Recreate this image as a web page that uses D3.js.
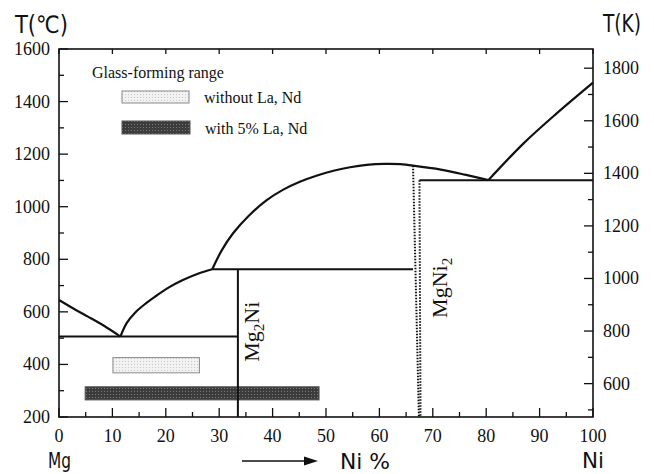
<!DOCTYPE html>
<html>
<head>
<meta charset="utf-8">
<script src="https://cdn.jsdelivr.net/npm/d3@7"></script>
<style>
  body { margin: 0; background: #fff; }
  svg { display: block; }
</style>
</head>
<body>
<div id="chart"></div>
<script>
// Mg-Ni phase diagram, x = at% Ni, y = temperature in degrees C
const liquidusMg = [[0, 645], [3, 609], [5.5, 581], [8.5, 546], [11.5, 506]];
const liquidusMg2Ni = [[11.5, 506], [12.7, 558], [14.2, 596], [16, 628], [18, 658],
  [20.5, 692], [23, 719], [26, 745], [28.7, 762]];
const liquidusMgNi2 = [[28.7, 762], [30.5, 835], [32.6, 899], [35.5, 965], [38.9, 1025],
  [42, 1065], [45.1, 1095], [48.2, 1118], [51.4, 1137], [54.5, 1150], [57.6, 1159],
  [61, 1163], [63.9, 1162], [66.3, 1156]];
const liquidusMid = [[66.3, 1156], [71.5, 1141], [76, 1122], [80.4, 1101]];
const liquidusNi = [[80.4, 1101], [87, 1241], [93.2, 1355], [100, 1472]];

// horizontal invariant lines: [xStart, xEnd, T]
const isotherms = [[0, 33.5, 506], [28.7, 66.3, 762], [67.5, 100, 1101]];
// Mg2Ni compound line
const mg2niLine = [[33.5, 200], [33.5, 762]];
// MgNi2 homogeneity range (dotted)
const mgni2Left = [[66.3, 1156], [67.4, 200]];
const mgni2Right = [[67.5, 1101], [67.7, 200]];

// glass-forming ranges: [xStart, xEnd, Tlow, Thigh]
const glassWithout = [10.1, 26.3, 368, 426];
const glassWith = [4.9, 48.7, 265, 315];

const xTicks = d3.range(0, 101, 5);
const xLabels = d3.range(0, 101, 10);
const cTicks = d3.range(200, 1601, 100);
const cLabels = d3.range(200, 1601, 200);
const kTicks = d3.range(500, 1801, 100);
const kLabels = d3.range(600, 1801, 200);

const serif = '"Liberation Serif", "Times New Roman", Times, serif';
const gothic = '"Liberation Sans Narrow", "DejaVu Sans Condensed", "Noto Sans", sans-serif';

const W = 654, H = 474;
const margin = { top: 49, right: 61, bottom: 57, left: 59 };
const width = W - margin.left - margin.right;
const height = H - margin.top - margin.bottom;

const svg = d3.select("#chart").append("svg")
  .attr("width", W)
  .attr("height", H);

const defs = svg.append("defs");
const lightPat = defs.append("pattern")
  .attr("id", "lightTex").attr("width", 3).attr("height", 3)
  .attr("patternUnits", "userSpaceOnUse");
lightPat.append("rect").attr("width", 3).attr("height", 3).attr("fill", "#f2f2f2");
lightPat.append("rect").attr("width", 1).attr("height", 1).attr("fill", "#c8c8c8");
const darkPat = defs.append("pattern")
  .attr("id", "darkTex").attr("width", 3).attr("height", 3)
  .attr("patternUnits", "userSpaceOnUse");
darkPat.append("rect").attr("width", 3).attr("height", 3).attr("fill", "#3c3c3c");
darkPat.append("rect").attr("width", 1).attr("height", 1).attr("fill", "#7a7a7a");

const chart = svg.append("g")
  .attr("transform", `translate(${margin.left},${margin.top})`);

const x = d3.scaleLinear().domain([0, 100]).range([0, width]);
const y = d3.scaleLinear().domain([200, 1600]).range([height, 0]);
const yK = d3.scaleLinear().domain([473, 1873]).range([height, 0]);

// frame
chart.append("rect")
  .attr("width", width).attr("height", height)
  .attr("fill", "none").attr("stroke", "#111").attr("stroke-width", 1.6);

// bottom ticks (inward)
chart.selectAll(".xtick").data(xTicks).enter().append("line")
  .attr("x1", d => x(d)).attr("x2", d => x(d))
  .attr("y1", height).attr("y2", d => height - (d % 10 === 0 ? 9 : 5))
  .attr("stroke", "#111").attr("stroke-width", 1.3);
// top ticks
chart.selectAll(".ttick").data(xLabels).enter().append("line")
  .attr("x1", d => x(d)).attr("x2", d => x(d))
  .attr("y1", 0).attr("y2", 5)
  .attr("stroke", "#111").attr("stroke-width", 1.3);
chart.selectAll(".xlab").data(xLabels).enter().append("text")
  .attr("x", d => x(d)).attr("y", height + 25)
  .attr("text-anchor", "middle")
  .style("font-family", serif).style("font-size", "18px").style("fill", "#111")
  .text(d => d);

// left axis (deg C)
chart.selectAll(".ctick").data(cTicks).enter().append("line")
  .attr("x1", 0).attr("x2", d => (d % 200 === 0 ? 9 : 5))
  .attr("y1", d => y(d)).attr("y2", d => y(d))
  .attr("stroke", "#111").attr("stroke-width", 1.3);
chart.selectAll(".clab").data(cLabels).enter().append("text")
  .attr("x", -9).attr("y", d => y(d) + 6)
  .attr("text-anchor", "end")
  .style("font-family", serif).style("font-size", "18px").style("fill", "#111")
  .text(d => d);

// right axis (K)
chart.selectAll(".ktick").data(kTicks).enter().append("line")
  .attr("x1", width).attr("x2", d => width - (d % 200 === 0 ? 9 : 5))
  .attr("y1", d => yK(d)).attr("y2", d => yK(d))
  .attr("stroke", "#111").attr("stroke-width", 1.3);
chart.selectAll(".klab").data(kLabels).enter().append("text")
  .attr("x", width + 10).attr("y", d => yK(d) + 6)
  .style("font-family", serif).style("font-size", "18px").style("fill", "#111")
  .text(d => d);

// glass-forming bars
chart.append("rect")
  .attr("x", x(glassWithout[0])).attr("width", x(glassWithout[1]) - x(glassWithout[0]))
  .attr("y", y(glassWithout[3])).attr("height", y(glassWithout[2]) - y(glassWithout[3]))
  .attr("fill", "url(#lightTex)").attr("stroke", "#8a8a8a").attr("stroke-width", 1);
chart.append("rect")
  .attr("x", x(glassWith[0])).attr("width", x(glassWith[1]) - x(glassWith[0]))
  .attr("y", y(glassWith[3])).attr("height", y(glassWith[2]) - y(glassWith[3]))
  .attr("fill", "url(#darkTex)").attr("stroke", "#555").attr("stroke-width", 1);

// phase boundaries
const curve = d3.line().x(d => x(d[0])).y(d => y(d[1])).curve(d3.curveCatmullRom.alpha(0.5));
const straight = d3.line().x(d => x(d[0])).y(d => y(d[1]));

[liquidusMg, liquidusMg2Ni, liquidusMgNi2, liquidusMid, liquidusNi].forEach(seg => {
  chart.append("path").datum(seg)
    .attr("fill", "none").attr("stroke", "#111").attr("stroke-width", 2.2)
    .attr("stroke-linejoin", "round")
    .attr("d", curve);
});

chart.selectAll(".iso").data(isotherms).enter().append("line")
  .attr("x1", d => x(d[0])).attr("x2", d => x(d[1]))
  .attr("y1", d => y(d[2])).attr("y2", d => y(d[2]))
  .attr("stroke", "#111").attr("stroke-width", 2);

chart.append("path").datum(mg2niLine)
  .attr("fill", "none").attr("stroke", "#111").attr("stroke-width", 2)
  .attr("d", straight);

[mgni2Left, mgni2Right].forEach(seg => {
  chart.append("path").datum(seg)
    .attr("fill", "none").attr("stroke", "#111").attr("stroke-width", 2)
    .attr("stroke-dasharray", "1.6,1.4")
    .attr("d", straight);
});

// compound labels (rotated)
const mg2niLabel = chart.append("text")
  .attr("transform", `translate(${x(33.5) + 21},${y(410)}) rotate(-90)`)
  .style("font-family", serif).style("font-size", "22px").style("fill", "#111");
mg2niLabel.append("tspan").text("Mg");
mg2niLabel.append("tspan").attr("dy", 5).style("font-size", "15px").text("2");
mg2niLabel.append("tspan").attr("dy", -5).text("Ni");

const mgni2Label = chart.append("text")
  .attr("transform", `translate(${x(67.5) + 28},${y(577)}) rotate(-90)`)
  .style("font-family", serif).style("font-size", "22px").style("fill", "#111");
mgni2Label.append("tspan").text("MgNi");
mgni2Label.append("tspan").attr("dy", 5).style("font-size", "15px").text("2");

// legend
const legendText = (tx, ty, label) => chart.append("text")
  .attr("x", tx).attr("y", ty)
  .style("font-family", serif).style("font-size", "16px").style("fill", "#111")
  .text(label);
legendText(33, 29, "Glass-forming range");
chart.append("rect")
  .attr("x", 63).attr("y", 42).attr("width", 67).attr("height", 12)
  .attr("fill", "url(#lightTex)").attr("stroke", "#8a8a8a");
legendText(145, 54, "without La, Nd");
chart.append("rect")
  .attr("x", 63).attr("y", 72).attr("width", 68).attr("height", 13)
  .attr("fill", "url(#darkTex)").attr("stroke", "#555");
legendText(146, 85, "with 5% La, Nd");

// axis titles
const title = (tx, ty, len, size, label) => svg.append("text")
  .attr("x", tx).attr("y", ty)
  .attr("textLength", len).attr("lengthAdjust", "spacingAndGlyphs")
  .style("font-family", gothic).style("font-size", size + "px").style("fill", "#111")
  .text(label);
title(15, 33, 53, 24, "T(℃)");
title(603, 32, 38, 24, "T(K)");
title(48, 468, 23, 22, "Mg");
title(582, 468, 22, 22, "Ni");
title(340, 469, 50, 22, "Ni   %");

// arrow
svg.append("line")
  .attr("x1", 242).attr("x2", 306).attr("y1", 461).attr("y2", 461)
  .attr("stroke", "#111").attr("stroke-width", 1.5);
svg.append("path")
  .attr("d", "M304,456.5 L318,461 L304,465.5 Z")
  .attr("fill", "#111");
</script>
</body>
</html>
